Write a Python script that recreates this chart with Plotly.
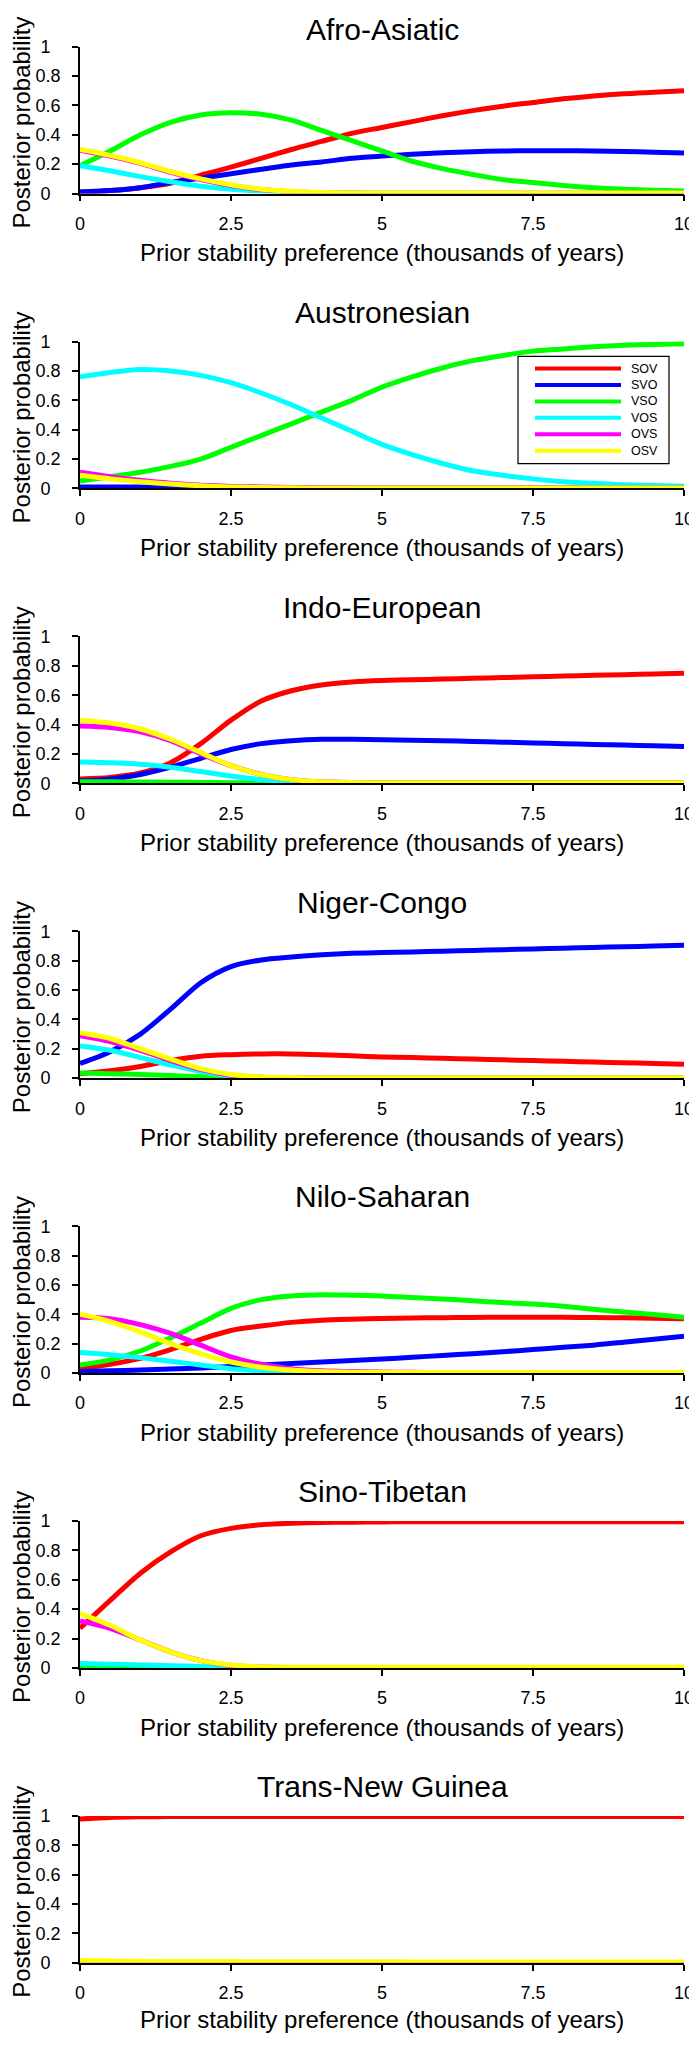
import plotly.graph_objects as go

# ---------------- data ----------------
x_vals = [0, 0.5, 1, 1.5, 2, 2.5, 3, 3.5, 4, 4.5, 5, 5.5, 6, 6.5, 7, 7.5, 8, 8.5, 9, 9.5, 10]

families = ["Afro-Asiatic", "Austronesian", "Indo-European", "Niger-Congo",
            "Nilo-Saharan", "Sino-Tibetan", "Trans-New Guinea"]
word_orders = ["SOV", "SVO", "VSO", "VOS", "OVS", "OSV"]
order_colors = ["#FF0000", "#0000FF", "#00FF00", "#00FFFF", "#FF00FF", "#FFFF00"]

x_ticks = [0, 2.5, 5, 7.5, 10]
x_tick_labels = ["0", "2.5", "5", "7.5", "10"]
y_ticks = [0, 0.2, 0.4, 0.6, 0.8, 1]
y_tick_labels = ["0", "0.2", "0.4", "0.6", "0.8", "1"]

x_title = "Prior stability preference (thousands of years)"
y_title = "Posterior probability"

# Afro-Asiatic
AA_SOV = [0.01, 0.02, 0.04, 0.07, 0.125, 0.18, 0.24, 0.30, 0.355, 0.41, 0.45, 0.49, 0.53, 0.565, 0.595, 0.62, 0.645, 0.665, 0.68, 0.69, 0.70]
AA_SVO = [0.01, 0.02, 0.04, 0.075, 0.105, 0.135, 0.165, 0.195, 0.215, 0.24, 0.255, 0.268, 0.278, 0.285, 0.29, 0.292, 0.292, 0.29, 0.286, 0.282, 0.277]
AA_VSO = [0.19, 0.29, 0.40, 0.485, 0.535, 0.55, 0.54, 0.50, 0.43, 0.36, 0.29, 0.22, 0.17, 0.13, 0.095, 0.075, 0.055, 0.04, 0.03, 0.022, 0.018]
AA_VOS = [0.19, 0.155, 0.115, 0.08, 0.05, 0.03, 0.017, 0.009, 0.005, 0.003, 0.002, 0.002, 0.002, 0.002, 0.002, 0.002, 0.002, 0.002, 0.002, 0.002, 0.002]
AA_OVS = [0.295, 0.255, 0.205, 0.145, 0.095, 0.055, 0.028, 0.013, 0.006, 0.003, 0.002, 0.002, 0.002, 0.002, 0.002, 0.002, 0.002, 0.002, 0.002, 0.002, 0.002]
AA_OSV = [0.30, 0.26, 0.21, 0.15, 0.10, 0.06, 0.03, 0.015, 0.007, 0.004, 0.003, 0.003, 0.003, 0.003, 0.003, 0.003, 0.003, 0.003, 0.003, 0.003, 0.003]

# Austronesian
AN_SOV = [0.004, 0.004, 0.003, 0.003, 0.002, 0.002, 0.002, 0.002, 0.002, 0.002, 0.002, 0.002, 0.002, 0.002, 0.002, 0.002, 0.002, 0.002, 0.002, 0.002, 0.002]
AN_SVO = [0.01, 0.01, 0.009, 0.007, 0.005, 0.003, 0.002, 0.002, 0.002, 0.002, 0.002, 0.002, 0.002, 0.002, 0.002, 0.002, 0.002, 0.002, 0.002, 0.002, 0.002]
AN_VSO = [0.05, 0.08, 0.11, 0.15, 0.20, 0.28, 0.36, 0.44, 0.52, 0.60, 0.69, 0.76, 0.82, 0.87, 0.905, 0.935, 0.95, 0.965, 0.975, 0.98, 0.985]
AN_VOS = [0.76, 0.79, 0.81, 0.80, 0.77, 0.72, 0.65, 0.57, 0.48, 0.39, 0.30, 0.23, 0.17, 0.12, 0.09, 0.065, 0.045, 0.035, 0.025, 0.02, 0.015]
AN_OVS = [0.11, 0.08, 0.055, 0.035, 0.022, 0.014, 0.01, 0.007, 0.005, 0.004, 0.003, 0.003, 0.003, 0.003, 0.003, 0.003, 0.003, 0.003, 0.003, 0.003, 0.003]
AN_OSV = [0.09, 0.065, 0.045, 0.03, 0.018, 0.01, 0.006, 0.004, 0.003, 0.003, 0.003, 0.003, 0.003, 0.003, 0.003, 0.003, 0.003, 0.003, 0.003, 0.003, 0.003]

# Indo-European
IE_SOV = [0.03, 0.04, 0.07, 0.14, 0.27, 0.43, 0.56, 0.63, 0.67, 0.69, 0.70, 0.705, 0.71, 0.715, 0.72, 0.725, 0.73, 0.735, 0.74, 0.745, 0.75]
IE_SVO = [0.015, 0.03, 0.06, 0.11, 0.17, 0.23, 0.27, 0.29, 0.30, 0.30, 0.297, 0.293, 0.29, 0.285, 0.28, 0.275, 0.27, 0.265, 0.26, 0.255, 0.25]
IE_VSO = [0.01, 0.01, 0.009, 0.008, 0.006, 0.004, 0.003, 0.002, 0.002, 0.002, 0.002, 0.002, 0.002, 0.002, 0.002, 0.002, 0.002, 0.002, 0.002, 0.002, 0.002]
IE_VOS = [0.145, 0.14, 0.13, 0.11, 0.08, 0.05, 0.025, 0.01, 0.004, 0.002, 0.002, 0.002, 0.002, 0.002, 0.002, 0.002, 0.002, 0.002, 0.002, 0.002, 0.002]
IE_OVS = [0.39, 0.38, 0.35, 0.29, 0.20, 0.12, 0.06, 0.025, 0.01, 0.005, 0.003, 0.003, 0.003, 0.003, 0.003, 0.003, 0.003, 0.003, 0.003, 0.003, 0.003]
IE_OSV = [0.43, 0.41, 0.37, 0.30, 0.21, 0.12, 0.06, 0.025, 0.01, 0.005, 0.004, 0.004, 0.004, 0.004, 0.004, 0.004, 0.004, 0.004, 0.004, 0.004, 0.004]

# Niger-Congo
NC_SOV = [0.03, 0.05, 0.08, 0.12, 0.15, 0.16, 0.165, 0.165, 0.16, 0.152, 0.145, 0.14, 0.135, 0.13, 0.125, 0.12, 0.115, 0.11, 0.105, 0.1, 0.095]
NC_SVO = [0.10, 0.18, 0.30, 0.47, 0.65, 0.76, 0.805, 0.825, 0.84, 0.85, 0.855, 0.86, 0.865, 0.87, 0.875, 0.88, 0.885, 0.89, 0.895, 0.90, 0.905]
NC_VSO = [0.035, 0.03, 0.025, 0.018, 0.01, 0.005, 0.003, 0.002, 0.002, 0.002, 0.002, 0.002, 0.002, 0.002, 0.002, 0.002, 0.002, 0.002, 0.002, 0.002, 0.002]
NC_VOS = [0.22, 0.19, 0.14, 0.09, 0.045, 0.015, 0.005, 0.002, 0.002, 0.002, 0.002, 0.002, 0.002, 0.002, 0.002, 0.002, 0.002, 0.002, 0.002, 0.002, 0.002]
NC_OVS = [0.29, 0.25, 0.19, 0.12, 0.06, 0.02, 0.007, 0.003, 0.002, 0.002, 0.002, 0.002, 0.002, 0.002, 0.002, 0.002, 0.002, 0.002, 0.002, 0.002, 0.002]
NC_OSV = [0.31, 0.27, 0.20, 0.13, 0.065, 0.025, 0.008, 0.004, 0.003, 0.003, 0.003, 0.003, 0.003, 0.003, 0.003, 0.003, 0.003, 0.003, 0.003, 0.003, 0.003]

# Nilo-Saharan
NS_SOV = [0.03, 0.06, 0.10, 0.16, 0.23, 0.29, 0.32, 0.345, 0.36, 0.367, 0.372, 0.375, 0.377, 0.379, 0.38, 0.38, 0.38, 0.378, 0.376, 0.373, 0.37]
NS_SVO = [0.01, 0.015, 0.02, 0.028, 0.035, 0.045, 0.055, 0.065, 0.075, 0.085, 0.095, 0.107, 0.12, 0.132, 0.145, 0.16, 0.175, 0.19, 0.21, 0.23, 0.25]
NS_VSO = [0.055, 0.09, 0.15, 0.24, 0.34, 0.44, 0.50, 0.525, 0.533, 0.53, 0.525, 0.515, 0.505, 0.492, 0.48, 0.47, 0.455, 0.435, 0.415, 0.398, 0.38]
NS_VOS = [0.14, 0.125, 0.105, 0.08, 0.055, 0.03, 0.015, 0.007, 0.003, 0.002, 0.002, 0.002, 0.002, 0.002, 0.002, 0.002, 0.002, 0.002, 0.002, 0.002, 0.002]
NS_OVS = [0.38, 0.37, 0.33, 0.27, 0.19, 0.11, 0.06, 0.03, 0.015, 0.01, 0.007, 0.005, 0.004, 0.003, 0.003, 0.003, 0.003, 0.003, 0.003, 0.003, 0.003]
NS_OSV = [0.40, 0.35, 0.28, 0.20, 0.13, 0.075, 0.04, 0.02, 0.01, 0.006, 0.005, 0.004, 0.004, 0.004, 0.004, 0.004, 0.004, 0.004, 0.004, 0.004, 0.004]

# Sino-Tibetan
ST_SOV = [0.27, 0.46, 0.645, 0.79, 0.90, 0.95, 0.975, 0.985, 0.99, 0.992, 0.994, 0.995, 0.995, 0.995, 0.995, 0.995, 0.995, 0.995, 0.995, 0.995, 0.995]
ST_SVO = [0.002, 0.002, 0.002, 0.002, 0.002, 0.002, 0.002, 0.002, 0.002, 0.002, 0.002, 0.002, 0.002, 0.002, 0.002, 0.002, 0.002, 0.002, 0.002, 0.002, 0.002]
ST_VSO = [0.005, 0.005, 0.004, 0.004, 0.003, 0.002, 0.002, 0.002, 0.002, 0.002, 0.002, 0.002, 0.002, 0.002, 0.002, 0.002, 0.002, 0.002, 0.002, 0.002, 0.002]
ST_VOS = [0.03, 0.025, 0.02, 0.015, 0.01, 0.004, 0.002, 0.002, 0.002, 0.002, 0.002, 0.002, 0.002, 0.002, 0.002, 0.002, 0.002, 0.002, 0.002, 0.002, 0.002]
ST_OVS = [0.32, 0.27, 0.19, 0.11, 0.05, 0.017, 0.006, 0.003, 0.003, 0.003, 0.003, 0.003, 0.003, 0.003, 0.003, 0.003, 0.003, 0.003, 0.003, 0.003, 0.003]
ST_OSV = [0.37, 0.29, 0.19, 0.11, 0.05, 0.02, 0.008, 0.005, 0.005, 0.005, 0.005, 0.005, 0.005, 0.005, 0.005, 0.005, 0.005, 0.005, 0.005, 0.005, 0.005]

# Trans-New Guinea
TNG_SOV = [0.98, 0.99, 0.994, 0.996, 0.997, 0.997, 0.997, 0.997, 0.997, 0.997, 0.997, 0.997, 0.997, 0.997, 0.997, 0.997, 0.997, 0.997, 0.997, 0.997, 0.997]
TNG_SVO = [0.001] * 21
TNG_VSO = [0.001] * 21
TNG_VOS = [0.001] * 21
TNG_OVS = [0.002] * 21
TNG_OSV = [0.015, 0.012, 0.01, 0.009, 0.008, 0.008, 0.007, 0.007, 0.007, 0.007, 0.007, 0.006, 0.006, 0.006, 0.006, 0.006, 0.006, 0.006, 0.006, 0.006, 0.006]

family_series = [
    [AA_SOV, AA_SVO, AA_VSO, AA_VOS, AA_OVS, AA_OSV],
    [AN_SOV, AN_SVO, AN_VSO, AN_VOS, AN_OVS, AN_OSV],
    [IE_SOV, IE_SVO, IE_VSO, IE_VOS, IE_OVS, IE_OSV],
    [NC_SOV, NC_SVO, NC_VSO, NC_VOS, NC_OVS, NC_OSV],
    [NS_SOV, NS_SVO, NS_VSO, NS_VOS, NS_OVS, NS_OSV],
    [ST_SOV, ST_SVO, ST_VSO, ST_VOS, ST_OVS, ST_OSV],
    [TNG_SOV, TNG_SVO, TNG_VSO, TNG_VOS, TNG_OVS, TNG_OSV],
]

# ---------------- layout geometry (target page pixels) ----------------
OFF_X, OFF_Y = 8, 16         # where the figure starts on the page
W, H = 697 - OFF_X, 2058 - OFF_Y - 8
PLOT_L, PLOT_R = 80, 684     # page pixels of x = 0 and x = 10
ML = PLOT_L - OFF_X
MR = W - (PLOT_R - OFF_X)
PW = W - ML - MR
FIRST_TOP = 45.0
PITCH = 297.8
PLOT_H = 148.3
FONT = "Liberation Sans, Arial, Helvetica, sans-serif"
FSP = "\u2007"               # figure space, keeps "0" and "1" centred like the reference


def px_x(px):
    # page pixel -> paper coordinate
    return (px - OFF_X - ML) / PW


def px_y(py):
    return 1 - (py - OFF_Y) / H


fig = go.Figure()
annotations = []
shapes = []

y_tick_text = [t + FSP if "." not in t else t for t in y_tick_labels]

for k, fam in enumerate(families):
    top = FIRST_TOP + PITCH * k
    bot = top + PLOT_H
    xa = "x" if k == 0 else f"x{k + 1}"
    ya = "y" if k == 0 else f"y{k + 1}"
    for name, col, vals in zip(word_orders, order_colors, family_series[k]):
        fig.add_trace(go.Scatter(
            x=x_vals, y=vals, mode="lines", name=name,
            line=dict(color=col, width=5, shape="spline", smoothing=0.8),
            xaxis=xa, yaxis=ya, showlegend=False, hoverinfo="skip"))

    axis_common = dict(showline=True, linecolor="black", linewidth=1.5,
                       ticks="outside", ticklen=6, tickwidth=1.5, tickcolor="black",
                       showgrid=False, zeroline=False, ticklabeloverflow="allow",
                       tickfont=dict(family=FONT, size=18, color="black"))
    xkey = "xaxis" if k == 0 else f"xaxis{k + 1}"
    ykey = "yaxis" if k == 0 else f"yaxis{k + 1}"
    fig.update_layout({
        xkey: dict(axis_common, domain=[0, 1], range=[0, 10], anchor=ya,
                   tickvals=x_ticks, ticktext=x_tick_labels, ticklabelstandoff=7),
        ykey: dict(axis_common, domain=[px_y(bot), px_y(top)], range=[0, 1], anchor=xa,
                   tickvals=y_ticks, ticktext=y_tick_text, ticklabelstandoff=8),
    })

    title_y = max(top - 29.5, OFF_Y + 12)
    annotations.append(dict(text=fam, xref="paper", yref="paper", x=0.5, y=px_y(title_y),
                            xanchor="center", yanchor="middle", showarrow=False,
                            font=dict(family=FONT, size=30, color="black")))
    annotations.append(dict(text=x_title, xref="paper", yref="paper", x=0.5,
                            y=px_y(min(bot + 60, OFF_Y + H - 13)),
                            xanchor="center", yanchor="middle", showarrow=False,
                            font=dict(family=FONT, size=24, color="black")))
    annotations.append(dict(text=y_title, xref="paper", yref="paper", x=px_x(21.5),
                            y=px_y((top + bot) / 2 + 3), textangle=-90, height=26,
                            borderpad=0, valign="middle",
                            xanchor="center", yanchor="middle", showarrow=False,
                            font=dict(family=FONT, size=24, color="black")))

# legend drawn inside the Austronesian panel (page pixels)
LEG_L, LEG_R, LEG_T, LEG_B = 518, 669, 357.7, 466
shapes.append(dict(type="rect", xref="paper", yref="paper",
                   x0=px_x(LEG_L), x1=px_x(LEG_R), y0=px_y(LEG_B), y1=px_y(LEG_T),
                   line=dict(color="black", width=1.2), fillcolor="white", layer="above"))
for i, (name, col) in enumerate(zip(word_orders, order_colors)):
    ry = 370 + 16.6 * i
    shapes.append(dict(type="line", xref="paper", yref="paper",
                       x0=px_x(535), x1=px_x(621), y0=px_y(ry), y1=px_y(ry),
                       line=dict(color=col, width=4), layer="above"))
    annotations.append(dict(text=name, xref="paper", yref="paper", x=px_x(629), y=px_y(ry),
                            xanchor="left", yanchor="middle", showarrow=False,
                            font=dict(family=FONT, size=12.5, color="black")))

fig.update_layout(width=W, height=H, margin=dict(l=ML, r=MR, t=0, b=0),
                  paper_bgcolor="white", plot_bgcolor="white",
                  annotations=annotations, shapes=shapes, showlegend=False)

fig.write_html("out.html")
